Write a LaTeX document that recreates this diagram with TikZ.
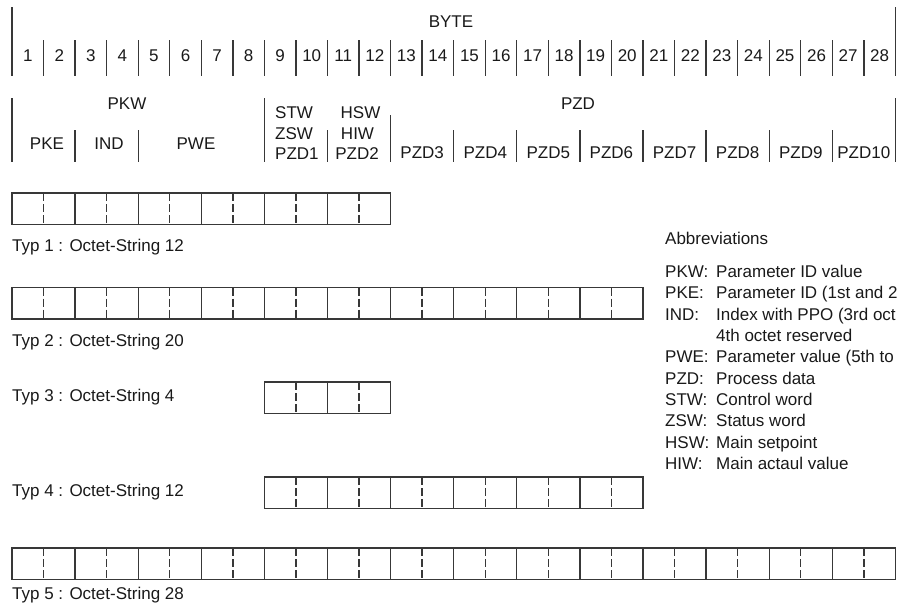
\documentclass[tikz,border=0pt]{standalone}
\usepackage{fontspec}
\setmainfont{Liberation Sans}
\newcommand\cw{31.55}
\newcommand\xo{12}
\newcommand\octrow[3]{%
  \pgfmathtruncatemacro\octpairs{#2/2}%
  \draw[ln] ({\xo+(#1-1)*\cw},#3) rectangle ({\xo+(#1-1+#2)*\cw},{#3+\cw});
  \foreach \p in {1,...,\octpairs}{%
    \draw[dsh] ({\xo+(#1-2+2*\p)*\cw},#3) -- ({\xo+(#1-2+2*\p)*\cw},{#3+\cw});
    \draw[ln] ({\xo+(#1-1+2*\p)*\cw},#3) -- ({\xo+(#1-1+2*\p)*\cw},{#3+\cw});
  }%
}
\begin{document}
\begin{tikzpicture}[x=1pt,y=-1pt,
  ln/.style={line width=1.35pt,draw=black!78},
  dsh/.style={line width=1.35pt,draw=black!78,dash pattern=on 8pt off 3pt},
  txt/.style={anchor=base,inner sep=0pt,text=black!90,font=\fontsize{17}{20}\selectfont},
  txtl/.style={txt,anchor=base west}]
\useasboundingbox (0,0) rectangle (897,608);
\clip (0,0) rectangle (897,608);
% ---- BYTE header
\draw[ln] (12,7) -- (12,76);
\draw[ln] ({\xo+28*\cw},7) -- ({\xo+28*\cw},76);
\node[txt] (byte) at (451,27) {BYTE};
\foreach \i in {1,...,27} \draw[ln] ({\xo+\i*\cw},40) -- ({\xo+\i*\cw},76);
\foreach \i in {1,...,28} \node[txt] (n\i) at ({\xo+(\i-0.5)*\cw},61) {\i};
% ---- second header
\draw[ln] (12,98) -- (12,162);
\draw[ln] ({\xo+8*\cw},98) -- ({\xo+8*\cw},162);
\draw[ln] ({\xo+28*\cw},98) -- ({\xo+28*\cw},162);
\foreach \i in {2,4,10,14,16,18,20,22,24,26} \draw[ln] ({\xo+\i*\cw},130) -- ({\xo+\i*\cw},162);
\draw[ln] ({\xo+12*\cw},115) -- ({\xo+12*\cw},162);
\node[txt] (pkw) at (127,109) {PKW};
\node[txt] (pke) at (47,149) {PKE};
\node[txt] (ind) at (109,149) {IND};
\node[txt] (pwe) at (196,149) {PWE};
\node[txtl] (stw) at (275,118) {STW};
\node[txtl] (zsw) at (275,139) {ZSW};
\node[txtl] (pzd1) at (275,159) {PZD1};
\node[txt] (hsw) at (360.5,118) {HSW};
\node[txt] (hiw) at (357.5,139) {HIW};
\node[txt] (pzd2) at (357,159) {PZD2};
\node[txt] (pzd) at (578,109) {PZD};
\foreach \k in {3,...,10} \node[txt] (pzd\k) at ({\xo+(2*\k+7)*\cw},158) {PZD\k};
% ---- octet rows
\octrow{1}{12}{193}
\node[txtl] (t1) at (12,251) {Typ 1 : Octet-String 12};
\octrow{1}{20}{287.5}
\node[txtl] (t2) at (12,346) {Typ 2 : Octet-String 20};
\octrow{9}{4}{382}
\node[txtl] (t3) at (12,401) {Typ 3 : Octet-String 4};
\octrow{9}{12}{477}
\node[txtl] (t4) at (12,496) {Typ 4 : Octet-String 12};
\octrow{1}{28}{548}
\node[txtl] (t5) at (12,599) {Typ 5 : Octet-String 28};
% ---- abbreviations
\node[txtl] (abb) at (665,244) {Abbreviations};
\node[txtl] (a1) at (665,277) {PKW:};
\node[txtl] (d1) at (716,277) {Parameter ID value};
\node[txtl] (a2) at (665,298) {PKE:};
\node[txtl] (d2) at (716,298) {Parameter ID (1st and 2};
\node[txtl] (a3) at (665,320) {IND:};
\node[txtl] (d3) at (716,320) {Index with PPO (3rd oct};
\node[txtl] (d3b) at (716,341) {4th octet reserved};
\node[txtl] (a4) at (665,362) {PWE:};
\node[txtl] (d4) at (716,362) {Parameter value (5th to};
\node[txtl] (a5) at (665,384) {PZD:};
\node[txtl] (d5) at (716,384) {Process data};
\node[txtl] (a6) at (665,405) {STW:};
\node[txtl] (d6) at (716,405) {Control word};
\node[txtl] (a7) at (665,426) {ZSW:};
\node[txtl] (d7) at (716,426) {Status word};
\node[txtl] (a8) at (665,448) {HSW:};
\node[txtl] (d8) at (716,448) {Main setpoint};
\node[txtl] (a9) at (665,469) {HIW:};
\node[txtl] (d9) at (716,469) {Main actaul value};
\end{tikzpicture}
\end{document}
